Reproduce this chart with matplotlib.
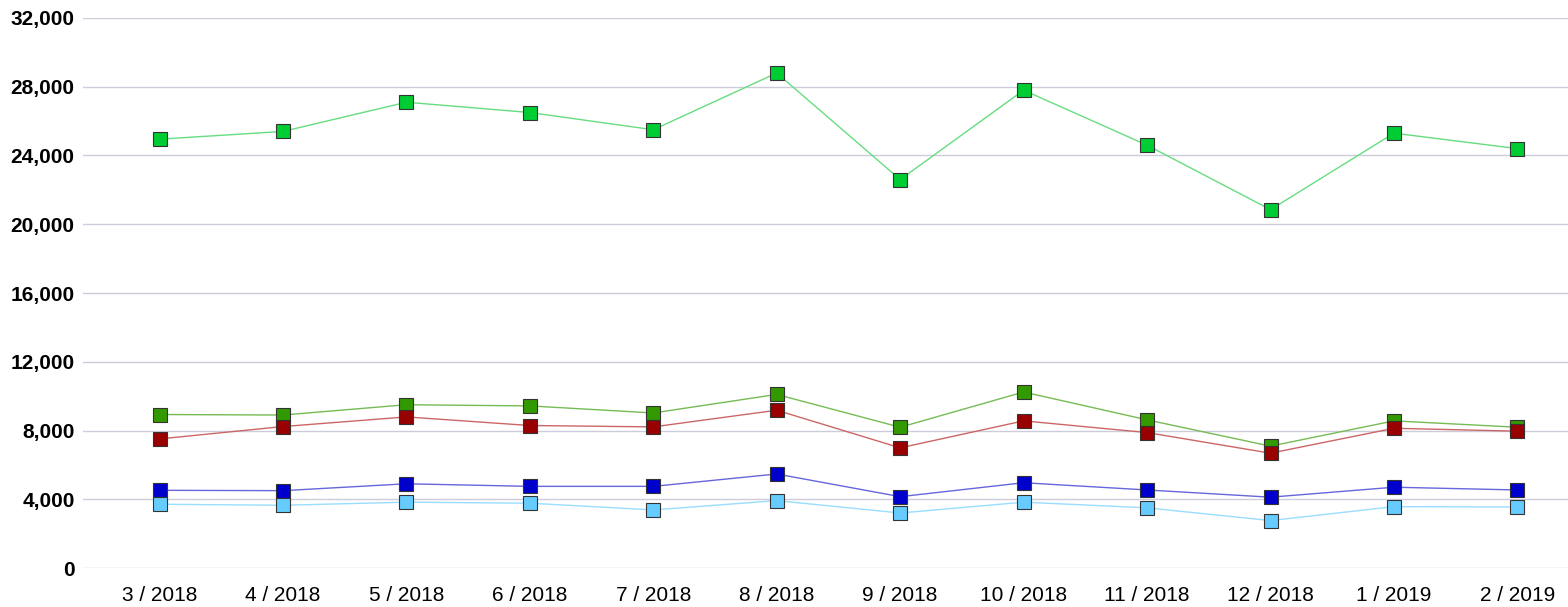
import numpy as np
import matplotlib
matplotlib.use("Agg")
import matplotlib.pyplot as plt
from matplotlib.ticker import FuncFormatter

months = ["3 / 2018", "4 / 2018", "5 / 2018", "6 / 2018", "7 / 2018", "8 / 2018",
          "9 / 2018", "10 / 2018", "11 / 2018", "12 / 2018", "1 / 2019", "2 / 2019"]

total = [24950, 25400, 27100, 26500, 25500, 28800, 22600, 27800, 24600, 20850, 25300, 24400]
series_a = [8930, 8900, 9500, 9430, 9020, 10100, 8190, 10240, 8620, 7090, 8560, 8190]
series_b = [7510, 8230, 8790, 8290, 8210, 9180, 6990, 8560, 7880, 6680, 8130, 7960]
series_c = [4520, 4500, 4900, 4750, 4750, 5470, 4150, 4960, 4540, 4120, 4700, 4540]
series_d = [3710, 3650, 3830, 3770, 3380, 3920, 3200, 3830, 3500, 2760, 3570, 3550]

y_ticks = [0, 4000, 8000, 12000, 16000, 20000, 24000, 28000, 32000]

# (values, marker colour, line colour)
styles = [
    (total, "#00cc33", "#66dd80"),
    (series_a, "#339900", "#77bb55"),
    (series_b, "#990000", "#cc6666"),
    (series_c, "#0000cc", "#6666dd"),
    (series_d, "#66ccff", "#99ddff"),
]

plt.rcParams['font.family'] = ['Liberation Sans', 'DejaVu Sans']

fig = plt.figure(figsize=(15.68, 6.07), dpi=100)
ax = fig.add_axes([83/1568, 39/607, 1 - 83/1568, 550/607])

x = np.arange(len(months))
for i, (vals, mc, lc) in enumerate(styles):
    ax.plot(x, vals, color=lc, lw=1, zorder=2 + i)
    ax.plot(x, vals, ls="none", marker="s", markersize=10, markerfacecolor=mc,
            markeredgecolor="#333333", markeredgewidth=0.8, zorder=2 + i)

ax.set_xlim(-0.62, 11.41)
ax.set_ylim(0, 32000)
ax.set_yticks(y_ticks)
ax.yaxis.set_major_formatter(FuncFormatter(lambda v, p: f"{int(v):,}"))
ax.set_xticks(x)
ax.set_xticklabels(months)
ax.tick_params(axis="y", length=0, pad=6, labelsize=15)
ax.tick_params(axis="x", length=0, pad=13, labelsize=15)
for lab in ax.get_yticklabels():
    lab.set_fontweight("bold")
ax.grid(axis="y", color="#ccccdd", lw=1)
ax.set_axisbelow(True)
for s in ax.spines.values():
    s.set_visible(False)

plt.savefig("out.png", dpi=100)
